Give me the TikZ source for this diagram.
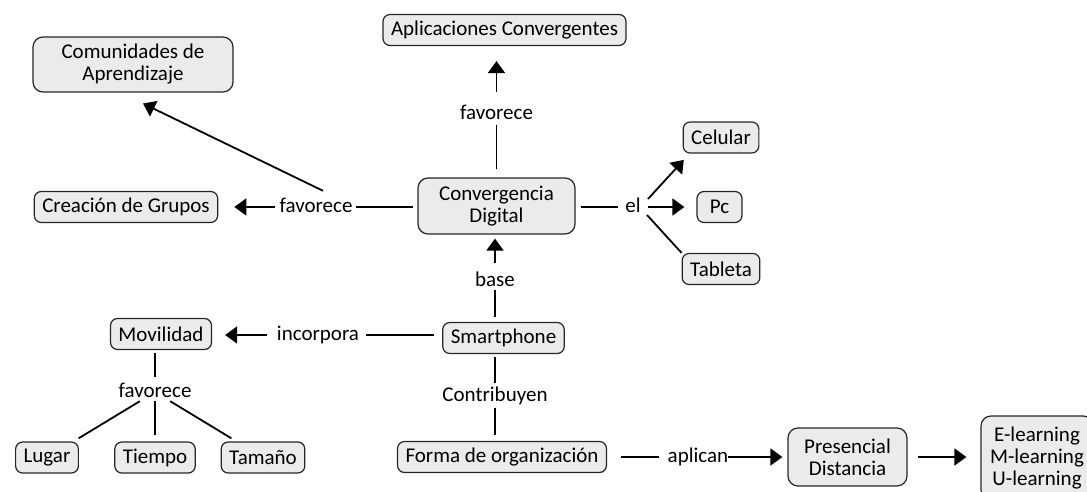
\documentclass[tikz,border=0pt]{standalone}
\usepackage{fontspec}
\setmainfont{Carlito}
\usetikzlibrary{arrows.meta}
\begin{document}
\begin{tikzpicture}[x=1pt, y=1pt, font=\fontsize{21}{22}\selectfont]
       \tikzstyle{conceptnode}=[draw=black!85, fill=black!8, line width=1.2pt, rounded corners=7pt, align=center, inner xsep=8pt, inner ysep=3pt, minimum height=31pt]
       \tikzstyle{linknode}=[inner sep=0pt, text height=14pt, text depth=4pt]
       \tikzstyle{plainedge}=[line width=1.8pt]
       \tikzstyle{arrowedge}=[line width=1.8pt, -{Triangle[length=12pt, width=17pt]}]
       \tikzstyle{level 1}=[level distance=65.5pt, sibling distance=108pt]
       \tikzstyle{edge from parent}=[draw, plainedge, shorten >=6pt]
       \useasboundingbox (0,0) rectangle (1087,491);
       % concepts
       \node[conceptnode, minimum width=200pt, minimum height=55pt, rounded corners=10pt] (com) at (133,426.5) {Comunidades de\\Aprendizaje};
       \node[conceptnode] (cre) at (126,284) {Creación de Grupos};
       \node[conceptnode] (apl) at (504.5,461) {Aplicaciones Convergentes};
       \node[conceptnode, minimum width=157pt, minimum height=56pt, rounded corners=10pt] (conv) at (496.5,285) {Convergencia\\Digital};
       \node[conceptnode] (cel) at (721,353.5) {Celular};
       \node[conceptnode, minimum width=45pt] (pc) at (719.5,284) {Pc};
       \node[conceptnode] (tab) at (721,222) {Tableta};
       \node[conceptnode] (mov) at (161,157) {Movilidad};
       \node[conceptnode] (sm) at (503.5,153) {Smartphone};
       \node[conceptnode] (forma) at (502,34) {Forma de organización};
       \node[conceptnode, minimum width=119pt, minimum height=58pt, rounded corners=10pt] (pres) at (847.5,34) {Presencial\\Distancia};
       \node[conceptnode, minimum width=112pt, minimum height=84pt, rounded corners=10pt] (elearn) at (1037,33) {E-learning\\M-learning\\U-learning};
       % linking words
       \node[linknode] (fav1) at (496.5,376) {favorece};
       \node[linknode] (fav2) at (316,284) {favorece};
       \node[linknode] (el) at (633,284) {el};
       \node[linknode] (base) at (495,210) {base};
       \node[linknode] (incorp) at (318,156) {incorpora};
       \node[linknode] (contrib) at (495,95) {Contribuyen};
       \node[linknode] (aplican) at (698,34) {aplican};
       \node[linknode] (favM) at (155,99) {favorece}
        child {node[conceptnode] (lug) {Lugar}}
        child {node[conceptnode] (tie) {Tiempo}}
        child {node[conceptnode] (tam) {Tamaño}};
       % links
       \draw[plainedge, shorten <=8pt, shorten >=1pt] (conv.north) -- (fav1.south);
       \draw[arrowedge, shorten <=14pt, shorten >=15pt] (fav1.north) -- (fav1.north |- apl.south);
       \draw[plainedge, shorten <=4pt, shorten >=3pt] (fav2.east -| conv.west) -- (fav2.east);
       \draw[arrowedge, shorten <=4pt, shorten >=16pt] (fav2.west) -- (fav2.west -| cre.east);
       \draw[arrowedge, shorten >=25pt] ([xshift=7pt, yshift=7pt]fav2.north) -- ([xshift=-12.5pt]com.south);
       \draw[plainedge, shorten <=5pt, shorten >=7pt] (el.west -| conv.east) -- (el.west);
       \draw[arrowedge, shorten >=8.5pt] ([xshift=15pt, yshift=8pt]el.center) -- ([xshift=7pt]cel.south west);
       \draw[arrowedge, shorten <=7.5pt, shorten >=12pt] (el.east) -- (el.east -| pc.west);
       \draw[plainedge] ([xshift=14pt, yshift=-8pt]el.center) -- (tab.north west);
       \draw[plainedge, shorten <=5pt] (base.south |- sm.north) -- (base.south);
       \draw[arrowedge, shorten <=9pt, shorten >=4pt] (base.north) -- (base.north |- conv.south);
       \draw[plainedge, shorten <=8pt, shorten >=7pt] (incorp.east -| sm.west) -- (incorp.east);
       \draw[arrowedge, shorten <=10pt, shorten >=13pt] (incorp.west) -- (incorp.west -| mov.east);
       \draw[plainedge, shorten <=3pt, shorten >=6pt] (favM.north |- mov.south) -- (favM.north);
       \draw[plainedge, shorten <=3pt, shorten >=4pt] (contrib.north |- sm.south) -- (contrib.north);
       \draw[plainedge, shorten <=3pt, shorten >=6pt] (contrib.south) -- (contrib.south |- forma.north);
       \draw[plainedge, shorten <=14pt, shorten >=9pt] (forma.east) -- (aplican.west);
       \draw[arrowedge, shorten >=5pt] (aplican.east) -- (pres.west);
       \draw[arrowedge, shorten <=10pt, shorten >=14pt] (pres.east) -- (pres.east -| elearn.west);
\end{tikzpicture}
\end{document}
